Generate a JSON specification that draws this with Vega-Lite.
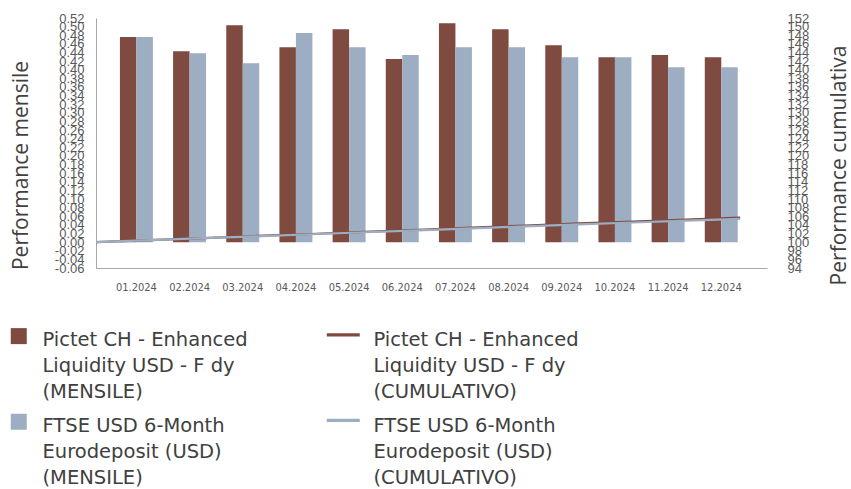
{
  "$schema": "https://vega.github.io/schema/vega-lite/v6.json",
  "width": 671,
  "height": 250,
  "autosize": {"type": "none"},
  "padding": {"left": 96, "top": 18, "right": 84, "bottom": 221},
  "background": "white",
  "config": {"view": {"stroke": null}, "style": {"guide-label": {"lineHeight": 26}}},
  "datasets": {
    "monthly": [
      {"month": "01.2024", "series": "Pictet CH - Enhanced Liquidity USD - F dy (MENSILE)", "value": 0.476},
      {"month": "02.2024", "series": "Pictet CH - Enhanced Liquidity USD - F dy (MENSILE)", "value": 0.443},
      {"month": "03.2024", "series": "Pictet CH - Enhanced Liquidity USD - F dy (MENSILE)", "value": 0.503},
      {"month": "04.2024", "series": "Pictet CH - Enhanced Liquidity USD - F dy (MENSILE)", "value": 0.452},
      {"month": "05.2024", "series": "Pictet CH - Enhanced Liquidity USD - F dy (MENSILE)", "value": 0.494},
      {"month": "06.2024", "series": "Pictet CH - Enhanced Liquidity USD - F dy (MENSILE)", "value": 0.425},
      {"month": "07.2024", "series": "Pictet CH - Enhanced Liquidity USD - F dy (MENSILE)", "value": 0.508},
      {"month": "08.2024", "series": "Pictet CH - Enhanced Liquidity USD - F dy (MENSILE)", "value": 0.494},
      {"month": "09.2024", "series": "Pictet CH - Enhanced Liquidity USD - F dy (MENSILE)", "value": 0.457},
      {"month": "10.2024", "series": "Pictet CH - Enhanced Liquidity USD - F dy (MENSILE)", "value": 0.429},
      {"month": "11.2024", "series": "Pictet CH - Enhanced Liquidity USD - F dy (MENSILE)", "value": 0.434},
      {"month": "12.2024", "series": "Pictet CH - Enhanced Liquidity USD - F dy (MENSILE)", "value": 0.429},
      {"month": "01.2024", "series": "FTSE USD 6-Month Eurodeposit (USD) (MENSILE)", "value": 0.476},
      {"month": "02.2024", "series": "FTSE USD 6-Month Eurodeposit (USD) (MENSILE)", "value": 0.438},
      {"month": "03.2024", "series": "FTSE USD 6-Month Eurodeposit (USD) (MENSILE)", "value": 0.415},
      {"month": "04.2024", "series": "FTSE USD 6-Month Eurodeposit (USD) (MENSILE)", "value": 0.485},
      {"month": "05.2024", "series": "FTSE USD 6-Month Eurodeposit (USD) (MENSILE)", "value": 0.452},
      {"month": "06.2024", "series": "FTSE USD 6-Month Eurodeposit (USD) (MENSILE)", "value": 0.434},
      {"month": "07.2024", "series": "FTSE USD 6-Month Eurodeposit (USD) (MENSILE)", "value": 0.452},
      {"month": "08.2024", "series": "FTSE USD 6-Month Eurodeposit (USD) (MENSILE)", "value": 0.452},
      {"month": "09.2024", "series": "FTSE USD 6-Month Eurodeposit (USD) (MENSILE)", "value": 0.429},
      {"month": "10.2024", "series": "FTSE USD 6-Month Eurodeposit (USD) (MENSILE)", "value": 0.429},
      {"month": "11.2024", "series": "FTSE USD 6-Month Eurodeposit (USD) (MENSILE)", "value": 0.406},
      {"month": "12.2024", "series": "FTSE USD 6-Month Eurodeposit (USD) (MENSILE)", "value": 0.406}
    ],
    "cumulative": [
      {"step": 0, "series": "Pictet CH - Enhanced Liquidity USD - F dy (CUMULATIVO)", "value": 100},
      {"step": 1, "series": "Pictet CH - Enhanced Liquidity USD - F dy (CUMULATIVO)", "value": 100.48},
      {"step": 2, "series": "Pictet CH - Enhanced Liquidity USD - F dy (CUMULATIVO)", "value": 100.92},
      {"step": 3, "series": "Pictet CH - Enhanced Liquidity USD - F dy (CUMULATIVO)", "value": 101.43},
      {"step": 4, "series": "Pictet CH - Enhanced Liquidity USD - F dy (CUMULATIVO)", "value": 101.89},
      {"step": 5, "series": "Pictet CH - Enhanced Liquidity USD - F dy (CUMULATIVO)", "value": 102.39},
      {"step": 6, "series": "Pictet CH - Enhanced Liquidity USD - F dy (CUMULATIVO)", "value": 102.83},
      {"step": 7, "series": "Pictet CH - Enhanced Liquidity USD - F dy (CUMULATIVO)", "value": 103.35},
      {"step": 8, "series": "Pictet CH - Enhanced Liquidity USD - F dy (CUMULATIVO)", "value": 103.86},
      {"step": 9, "series": "Pictet CH - Enhanced Liquidity USD - F dy (CUMULATIVO)", "value": 104.34},
      {"step": 10, "series": "Pictet CH - Enhanced Liquidity USD - F dy (CUMULATIVO)", "value": 104.79},
      {"step": 11, "series": "Pictet CH - Enhanced Liquidity USD - F dy (CUMULATIVO)", "value": 105.24},
      {"step": 12, "series": "Pictet CH - Enhanced Liquidity USD - F dy (CUMULATIVO)", "value": 105.69},
      {"step": 0, "series": "FTSE USD 6-Month Eurodeposit (USD) (CUMULATIVO)", "value": 100},
      {"step": 1, "series": "FTSE USD 6-Month Eurodeposit (USD) (CUMULATIVO)", "value": 100.48},
      {"step": 2, "series": "FTSE USD 6-Month Eurodeposit (USD) (CUMULATIVO)", "value": 100.92},
      {"step": 3, "series": "FTSE USD 6-Month Eurodeposit (USD) (CUMULATIVO)", "value": 101.34},
      {"step": 4, "series": "FTSE USD 6-Month Eurodeposit (USD) (CUMULATIVO)", "value": 101.83},
      {"step": 5, "series": "FTSE USD 6-Month Eurodeposit (USD) (CUMULATIVO)", "value": 102.29},
      {"step": 6, "series": "FTSE USD 6-Month Eurodeposit (USD) (CUMULATIVO)", "value": 102.73},
      {"step": 7, "series": "FTSE USD 6-Month Eurodeposit (USD) (CUMULATIVO)", "value": 103.2},
      {"step": 8, "series": "FTSE USD 6-Month Eurodeposit (USD) (CUMULATIVO)", "value": 103.66},
      {"step": 9, "series": "FTSE USD 6-Month Eurodeposit (USD) (CUMULATIVO)", "value": 104.11},
      {"step": 10, "series": "FTSE USD 6-Month Eurodeposit (USD) (CUMULATIVO)", "value": 104.56},
      {"step": 11, "series": "FTSE USD 6-Month Eurodeposit (USD) (CUMULATIVO)", "value": 104.98},
      {"step": 12, "series": "FTSE USD 6-Month Eurodeposit (USD) (CUMULATIVO)", "value": 105.4}
    ]
  },
  "layer": [
    {
      "data": {"name": "monthly"},
      "mark": {"type": "bar"},
      "encoding": {
        "x": {
          "field": "month", "type": "ordinal", "sort": null,
          "scale": {"paddingInner": 0.38, "paddingOuter": 0.5, "align": 0.45},
          "axis": {"title": null, "labelFont": "DejaVu Sans Condensed, Liberation Sans", "labelFontSize": 11, "labelColor": "#595959", "labelPadding": 13, "ticks": false, "domainColor": "#A6A6A6", "labelAngle": 0, "grid": false}
        },
        "xOffset": {
          "field": "series", "type": "nominal",
          "scale": {"domain": ["Pictet CH - Enhanced Liquidity USD - F dy (MENSILE)", "FTSE USD 6-Month Eurodeposit (USD) (MENSILE)"], "paddingInner": 0, "paddingOuter": 0}
        },
        "y": {
          "field": "value", "type": "quantitative",
          "scale": {"domain": [-0.06, 0.52], "nice": false, "zero": false},
          "axis": {
            "title": "Performance mensile",
            "values": [-0.06, -0.04, -0.02, 0, 0.02, 0.04, 0.06, 0.08, 0.1, 0.12, 0.14, 0.16, 0.18, 0.2, 0.22, 0.24, 0.26, 0.28, 0.3, 0.32, 0.34, 0.36, 0.38, 0.4, 0.42, 0.44, 0.46, 0.48, 0.5, 0.52],
            "labelExpr": "replace(format(datum.value, '.2f'), '\u2212', '-')",
            "labelOverlap": false, "labelFlush": false, "ticks": false, "grid": false,
            "domainColor": "#A6A6A6", "labelPadding": 12,
            "labelFont": "Liberation Sans", "labelFontSize": 13, "labelColor": "#595959",
            "titleFont": "Open Sans", "titleFontSize": 21, "titleFontWeight": "normal", "titleColor": "#404040",
            "titlePadding": 23, "titleY": 147
          }
        },
        "color": {
          "field": "series", "type": "nominal",
          "scale": {
            "domain": ["Pictet CH - Enhanced Liquidity USD - F dy (MENSILE)", "FTSE USD 6-Month Eurodeposit (USD) (MENSILE)", "Pictet CH - Enhanced Liquidity USD - F dy (CUMULATIVO)", "FTSE USD 6-Month Eurodeposit (USD) (CUMULATIVO)"],
            "range": ["#7F4A40", "#9DADC2", "#7F4A40", "#9DADC2"]
          },
          "legend": null
        }
      }
    },
    {
      "data": {"name": "cumulative"},
      "mark": {"type": "line", "strokeWidth": 2.2},
      "encoding": {
        "x": {"field": "step", "type": "quantitative", "scale": {"domain": [0, 12.5], "nice": false, "zero": false}, "axis": null},
        "y": {
          "field": "value", "type": "quantitative",
          "scale": {"domain": [94, 152], "nice": false, "zero": false},
          "axis": {
            "orient": "right",
            "title": "Performance cumulativa", "titleAngle": 270,
            "values": [94, 96, 98, 100, 102, 104, 106, 108, 110, 112, 114, 116, 118, 120, 122, 124, 126, 128, 130, 132, 134, 136, 138, 140, 142, 144, 146, 148, 150, 152],
            "labelOverlap": false, "labelFlush": false, "ticks": false, "grid": false, "domain": false,
            "labelPadding": 20, "labelFont": "Liberation Sans", "labelFontSize": 13, "labelColor": "#595959",
            "titleFont": "Open Sans", "titleFontSize": 21, "titleFontWeight": "normal", "titleColor": "#404040",
            "titlePadding": 41, "titleY": 147
          }
        },
        "color": {
          "field": "series", "type": "nominal",
          "scale": {
            "domain": ["Pictet CH - Enhanced Liquidity USD - F dy (MENSILE)", "FTSE USD 6-Month Eurodeposit (USD) (MENSILE)", "Pictet CH - Enhanced Liquidity USD - F dy (CUMULATIVO)", "FTSE USD 6-Month Eurodeposit (USD) (CUMULATIVO)"],
            "range": ["#7F4A40", "#9DADC2", "#7F4A40", "#9DADC2"]
          },
          "legend": null
        }
      }
    },
    {
      "data": {"name": "monthly"},
      "transform": [{"filter": "false"}],
      "mark": {"type": "point", "filled": true, "opacity": 1, "size": 256},
      "encoding": {
        "color": {
          "field": "series", "type": "nominal",
          "scale": {
            "domain": ["Pictet CH - Enhanced Liquidity USD - F dy (MENSILE)", "FTSE USD 6-Month Eurodeposit (USD) (MENSILE)", "Pictet CH - Enhanced Liquidity USD - F dy (CUMULATIVO)", "FTSE USD 6-Month Eurodeposit (USD) (CUMULATIVO)"],
            "range": ["#7F4A40", "#9DADC2", "#7F4A40", "#9DADC2"]
          },
          "legend": {
            "title": null, "orient": "none", "legendX": -87, "legendY": 303, "columns": 2,
            "columnPadding": 78, "rowPadding": 5, "symbolSize": 256, "symbolStrokeWidth": 0,
            "labelFont": "DejaVu Sans", "labelFontSize": 19.5, "labelColor": "#404040", "labelLimit": 500,
            "labelOffset": 14, "labelBaseline": "top", "padding": 0,
            "labelExpr": "split(replace(replace(replace(replace(datum.label, ' Liquidity', '|Liquidity'), ' Eurodeposit', '|Eurodeposit'), ' (MENSILE)', '|(MENSILE)'), ' (CUMULATIVO)', '|(CUMULATIVO)'), '|')"
          }
        },
        "shape": {
          "field": "series", "type": "nominal",
          "scale": {
            "domain": ["Pictet CH - Enhanced Liquidity USD - F dy (MENSILE)", "FTSE USD 6-Month Eurodeposit (USD) (MENSILE)", "Pictet CH - Enhanced Liquidity USD - F dy (CUMULATIVO)", "FTSE USD 6-Month Eurodeposit (USD) (CUMULATIVO)"],
            "range": ["M-1,-0.375H1V1.625H-1Z", "M-1,-0.375H1V1.625H-1Z", "M-2.87,0.25H1.25V0.66H-2.87Z", "M-2.87,0.25H1.25V0.66H-2.87Z"]
          },
          "legend": {
            "title": null, "orient": "none", "legendX": -87, "legendY": 303, "columns": 2,
            "columnPadding": 78, "rowPadding": 5, "symbolSize": 256, "symbolStrokeWidth": 0,
            "labelFont": "DejaVu Sans", "labelFontSize": 19.5, "labelColor": "#404040", "labelLimit": 500,
            "labelOffset": 14, "labelBaseline": "top", "padding": 0,
            "labelExpr": "split(replace(replace(replace(replace(datum.label, ' Liquidity', '|Liquidity'), ' Eurodeposit', '|Eurodeposit'), ' (MENSILE)', '|(MENSILE)'), ' (CUMULATIVO)', '|(CUMULATIVO)'), '|')"
          }
        }
      }
    }
  ],
  "resolve": {"scale": {"x": "independent", "y": "independent"}, "legend": {"color": "independent", "shape": "independent"}}
}
